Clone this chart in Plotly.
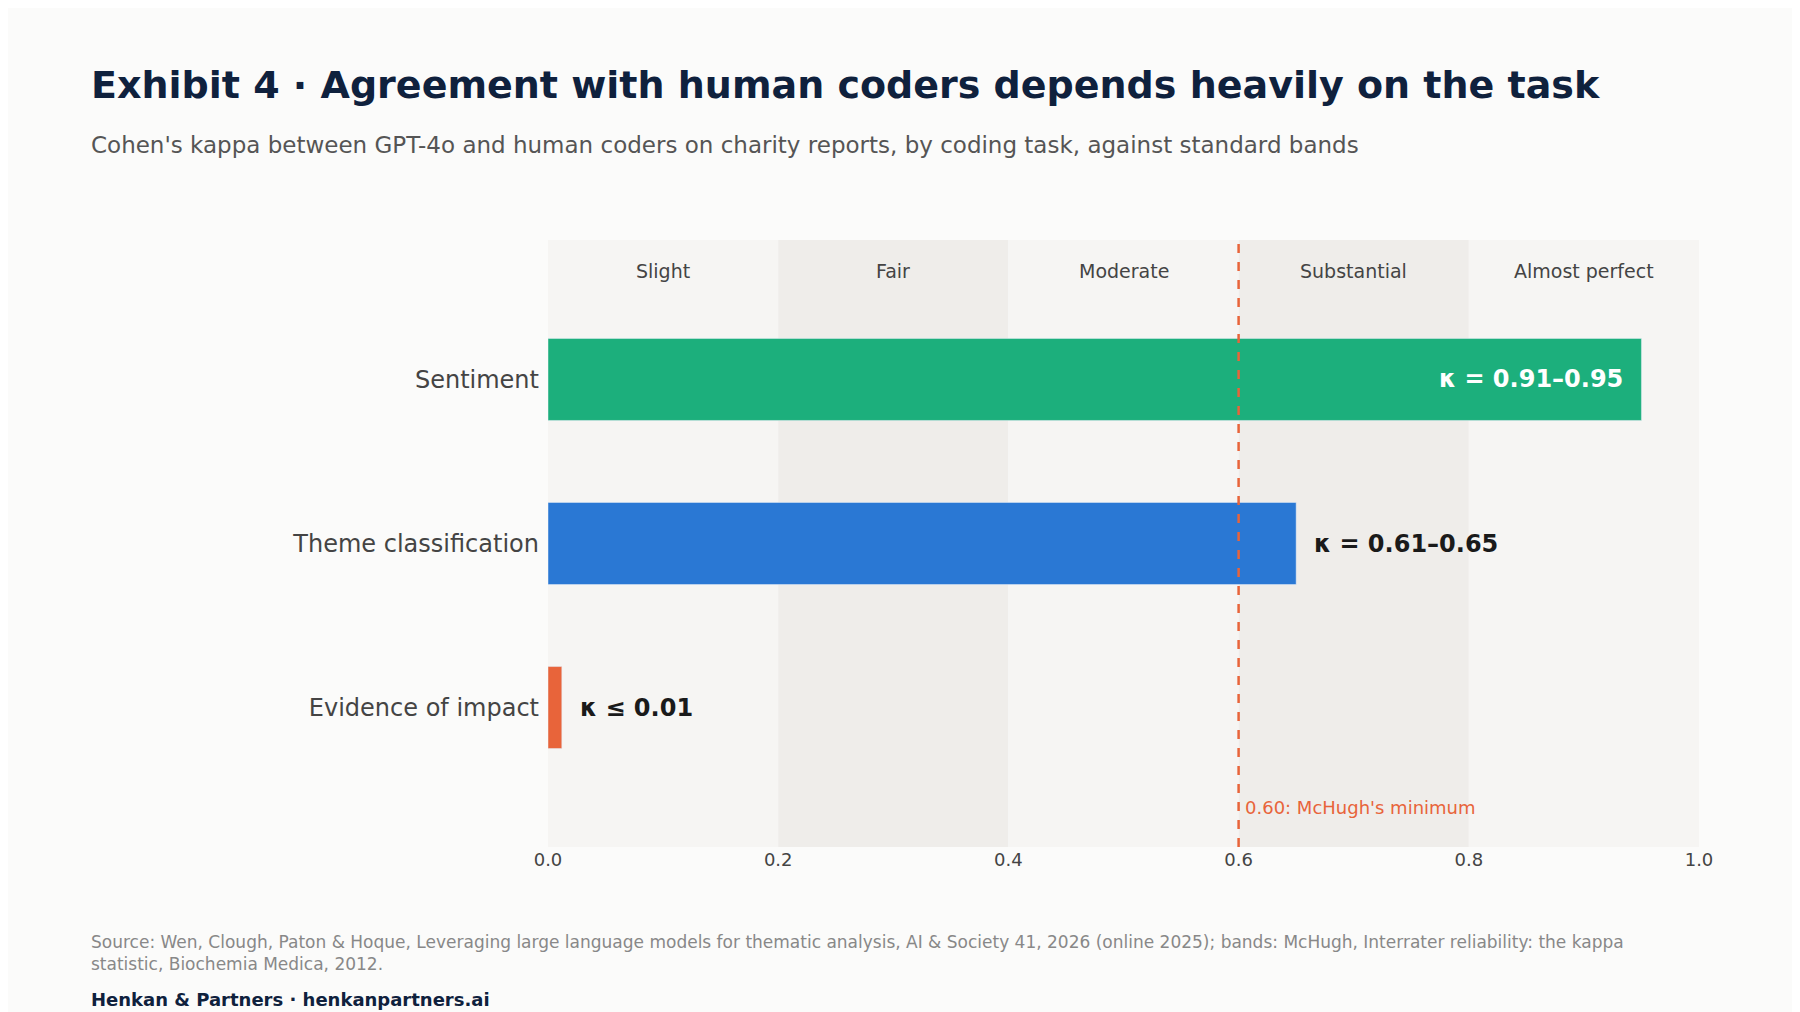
import plotly.graph_objects as go

tasks = ["Sentiment", "Theme classification", "Evidence of impact"]
kappa = [0.95, 0.65, 0.012]
labels = ["κ = 0.91–0.95", "κ = 0.61–0.65", "κ ≤ 0.01"]
colors = ["#1caf7c", "#2a78d4", "#e8643a"]
band_names = ["Slight", "Fair", "Moderate", "Substantial", "Almost perfect"]
band_edges = [0.0, 0.2, 0.4, 0.6, 0.8, 1.0]
threshold = 0.60

FONT = "DejaVu Sans"
fig = go.Figure()
fig.add_trace(go.Bar(x=kappa, y=tasks, orientation="h", marker_color=colors,
                     width=0.5, hoverinfo="skip"))

for i, name in enumerate(band_names):
    fig.add_shape(type="rect", xref="x", yref="paper", x0=band_edges[i], x1=band_edges[i+1],
                  y0=0, y1=1, fillcolor="#f6f5f3" if i % 2 == 0 else "#efedea",
                  line_width=0, layer="below")
    fig.add_annotation(x=(band_edges[i]+band_edges[i+1])/2, y=-0.66, text=name, showarrow=False,
                       font=dict(family=FONT, size=19, color="#444"))

fig.add_shape(type="line", xref="x", yref="paper", x0=threshold, x1=threshold, y0=0, y1=1,
              line=dict(color="#e8643a", width=2.5, dash="dash"))
fig.add_annotation(x=threshold, y=2.61, text="0.60: McHugh's minimum", showarrow=False,
                   xanchor="left", xshift=4, font=dict(family=FONT, size=18, color="#e8643a"))

for i, (v, t) in enumerate(zip(kappa, labels)):
    inside = v > 0.8
    fig.add_annotation(x=v, y=tasks[i], text="<b>%s</b>" % t, showarrow=False,
                       xanchor="right" if inside else "left", xshift=-16 if inside else 16,
                       font=dict(family=FONT, size=24, color="white" if inside else "#1a1a1a"))

fig.add_annotation(xref="paper", yref="paper", x=-0.0, y=1.27, xanchor="left",
                   text="<b>Exhibit 4 · Agreement with human coders depends heavily on the task</b>",
                   showarrow=False, font=dict(family=FONT, size=38, color="#0f213d"))
fig.add_annotation(xref="paper", yref="paper", x=0, y=1.165, xanchor="left",
                   text="Cohen's kappa between GPT-4o and human coders on charity reports, by coding task, against standard bands",
                   showarrow=False, font=dict(family=FONT, size=23, color="#555"))

fig.update_layout(
    width=1800, height=1012, paper_bgcolor="#fbfbfa", plot_bgcolor="#fbfbfa",
    margin=dict(l=540, r=109, t=232, b=173), showlegend=False,
    xaxis=dict(range=[0, 1], tickvals=[0, 0.2, 0.4, 0.6, 0.8, 1.0], tickformat=".1f",
               showgrid=False, zeroline=False, tickfont=dict(family=FONT, size=18, color="#444")),
    yaxis=dict(range=[2.85, -0.85], showgrid=False, zeroline=False, ticks="", ticklabelstandoff=8,
               tickfont=dict(family=FONT, size=24, color="#444")),
)
# reposition titles relative to paper using pixel coords
fig.layout.annotations[-2].update(xref="paper", x=-0.0, yref="paper")
ph = 1012 - 232 - 173
fig.layout.annotations[-2].update(xref="paper", x=(81-540)/1151, y=(1012-173-77)/ph, yanchor="middle")
fig.layout.annotations[-1].update(xref="paper", x=(81-540)/1151, y=(1012-173-137)/ph, yanchor="middle")
fig.add_annotation(xref="paper", yref="paper", x=(81-540)/1151, y=(1012-173-945)/ph, xanchor="left",
                   yanchor="middle", align="left", showarrow=False,
                   text="Source: Wen, Clough, Paton & Hoque, Leveraging large language models for thematic analysis, AI & Society 41, 2026 (online 2025); bands: McHugh, Interrater reliability: the kappa<br>statistic, Biochemia Medica, 2012.",
                   font=dict(family=FONT, size=17, color="#888"))
fig.add_annotation(xref="paper", yref="paper", x=(81-540)/1151, y=(1012-173-991)/ph, xanchor="left",
                   yanchor="middle", showarrow=False, text="<b>Henkan & Partners · henkanpartners.ai</b>",
                   font=dict(family=FONT, size=18, color="#0f213d"))
fig.write_html("out.html")
